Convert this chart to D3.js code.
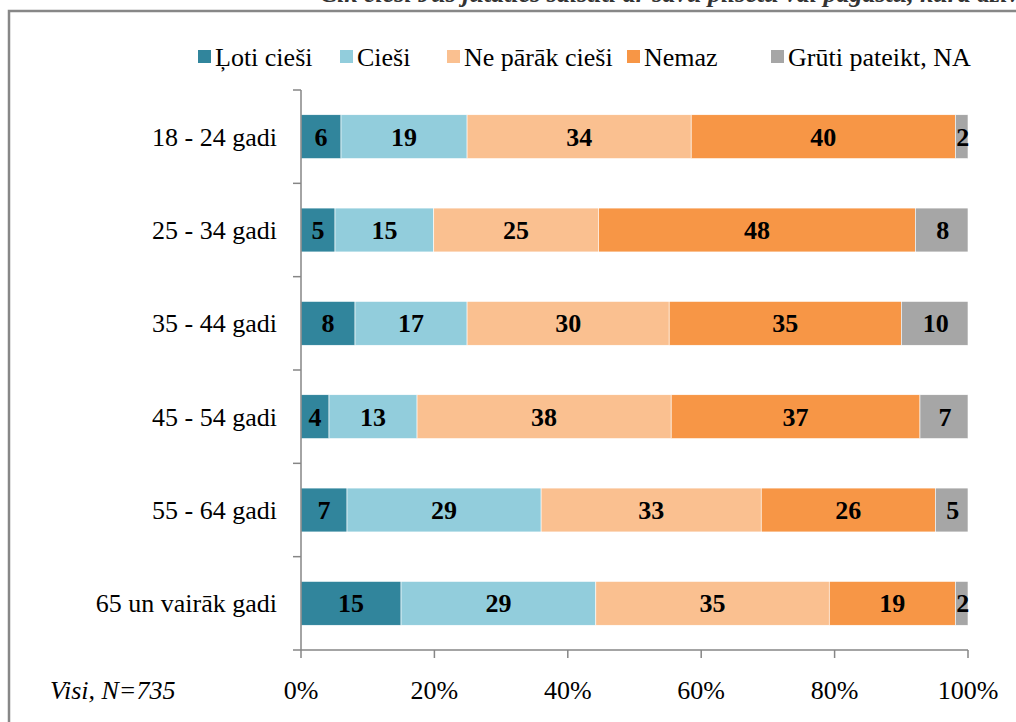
<!DOCTYPE html>
<html>
<head>
<meta charset="utf-8">
<script src="https://cdn.jsdelivr.net/npm/d3@7"></script>
<style>
  body { margin: 0; background: #fff; }
</style>
</head>
<body>
<svg width="1016" height="722" font-family="Liberation Serif, Times New Roman, serif"></svg>
<script>
var categories = ["18 - 24 gadi", "25 - 34 gadi", "35 - 44 gadi", "45 - 54 gadi", "55 - 64 gadi", "65 un vairāk gadi"]
var seriesNames = ["Ļoti cieši", "Cieši", "Ne pārāk cieši", "Nemaz", "Grūti pateikt, NA"]
var colors = ["#31859C", "#92CDDC", "#FAC090", "#F79646", "#A6A6A6"]

// procenti katrai grupai (nolasīti no attēla)
var lotiCiesi = [6.0, 5.1, 8.1, 4.2, 6.9, 15.0]
var ciesi = [18.9, 14.8, 16.8, 13.2, 29.1, 29.2]
var neParakCiesi = [33.6, 24.7, 30.3, 38.1, 33.0, 35.0]
var nemaz = [39.6, 47.5, 34.8, 37.3, 26.1, 18.9]
var grutiPateikt = [1.9, 7.9, 10.0, 7.2, 4.9, 1.9]

var xTicks = [0, 20, 40, 60, 80, 100]
var footnote = "Visi, N=735"
var title = "Cik cieši Jūs jūtaties saistīti ar savu pilsētu vai pagastu, kurā dzīvojat?"

var data = categories.map((c, i) => ({
    cat: c,
    "Ļoti cieši": lotiCiesi[i],
    "Cieši": ciesi[i],
    "Ne pārāk cieši": neParakCiesi[i],
    "Nemaz": nemaz[i],
    "Grūti pateikt, NA": grutiPateikt[i]
}))

var svg = d3.select("svg")
var fs = 26

// ārējais rāmis
svg.append("path")
    .attr("d", "M9,730 L9,11 L1030,11")
    .attr("fill", "none").attr("stroke", "#878787").attr("stroke-width", 2.5)

// nogriezts virsraksts (attēlā redzama tikai apakšējā daļa)
svg.append("text")
    .attr("x", 320).attr("y", 2)
    .attr("font-size", fs).attr("font-weight", "bold").attr("font-style", "italic")
    .attr("fill", "#333")
    .text(title)

var pLeft = 301, pRight = 968, pTop = 90, pBottom = 650

var scX = d3.scaleLinear().domain([0, 100]).range([pLeft, pRight])
var scY = d3.scaleBand().domain(categories).range([pTop, pBottom]).paddingInner(0.53).paddingOuter(0.265)

var stack = d3.stack().keys(seriesNames)(data)

var g = svg.append("g")
stack.forEach(function (layer, k) {
    var lg = g.append("g").attr("fill", colors[k])
    lg.selectAll("rect").data(layer).enter().append("rect")
        .attr("x", d => scX(d[0]))
        .attr("width", d => scX(d[1]) - scX(d[0]))
        .attr("y", d => scY(d.data.cat))
        .attr("height", scY.bandwidth())
        .attr("stroke", "#fff").attr("stroke-width", 0.6)
    lg.selectAll("text").data(layer).enter().append("text")
        .attr("x", d => scX((d[0] + d[1]) / 2) + (k == 4 ? 1 : 0))
        .attr("y", d => scY(d.data.cat) + scY.bandwidth() / 2)
        .attr("dy", "0.35em")
        .attr("text-anchor", "middle")
        .attr("fill", "#000")
        .attr("font-size", fs).attr("font-weight", "bold")
        .text(d => Math.round(d[1] - d[0]))
})

// y ass
var yBounds = categories.map(c => scY(c) - scY.step() * scY.paddingInner() / 2).concat([pBottom])
svg.append("line")
    .attr("x1", pLeft).attr("x2", pLeft).attr("y1", pTop).attr("y2", pBottom)
    .attr("stroke", "#868686").attr("stroke-width", 1.5)
svg.append("g").selectAll("line").data(yBounds).enter().append("line")
    .attr("x1", pLeft - 8).attr("x2", pLeft)
    .attr("y1", d => d).attr("y2", d => d)
    .attr("stroke", "#868686").attr("stroke-width", 1.5)

svg.append("g").selectAll("text").data(categories).enter().append("text")
    .attr("x", 277)
    .attr("y", d => scY(d) + scY.bandwidth() / 2)
    .attr("dy", "0.35em")
    .attr("text-anchor", "end")
    .attr("font-size", fs)
    .text(d => d)

// x ass
svg.append("line")
    .attr("x1", pLeft).attr("x2", pRight).attr("y1", pBottom).attr("y2", pBottom)
    .attr("stroke", "#868686").attr("stroke-width", 1.5)
svg.append("g").selectAll("line").data(xTicks).enter().append("line")
    .attr("x1", d => scX(d)).attr("x2", d => scX(d))
    .attr("y1", pBottom).attr("y2", pBottom + 8)
    .attr("stroke", "#868686").attr("stroke-width", 1.5)
svg.append("g").selectAll("text").data(xTicks).enter().append("text")
    .attr("x", d => scX(d))
    .attr("y", 699)
    .attr("text-anchor", "middle")
    .attr("font-size", fs)
    .text(d => d + "%")

svg.append("text")
    .attr("x", 50).attr("y", 699)
    .attr("font-size", fs).attr("font-style", "italic")
    .text(footnote)

// leģenda
var legX = [198, 340, 447, 627, 771]
var leg = svg.append("g")
seriesNames.forEach(function (s, k) {
    leg.append("rect")
        .attr("x", legX[k]).attr("y", 50)
        .attr("width", 13).attr("height", 13)
        .attr("fill", colors[k])
    leg.append("text")
        .attr("x", legX[k] + 17).attr("y", 57)
        .attr("dy", "0.35em")
        .attr("font-size", fs)
        .text(s)
})
</script>
</body>
</html>
